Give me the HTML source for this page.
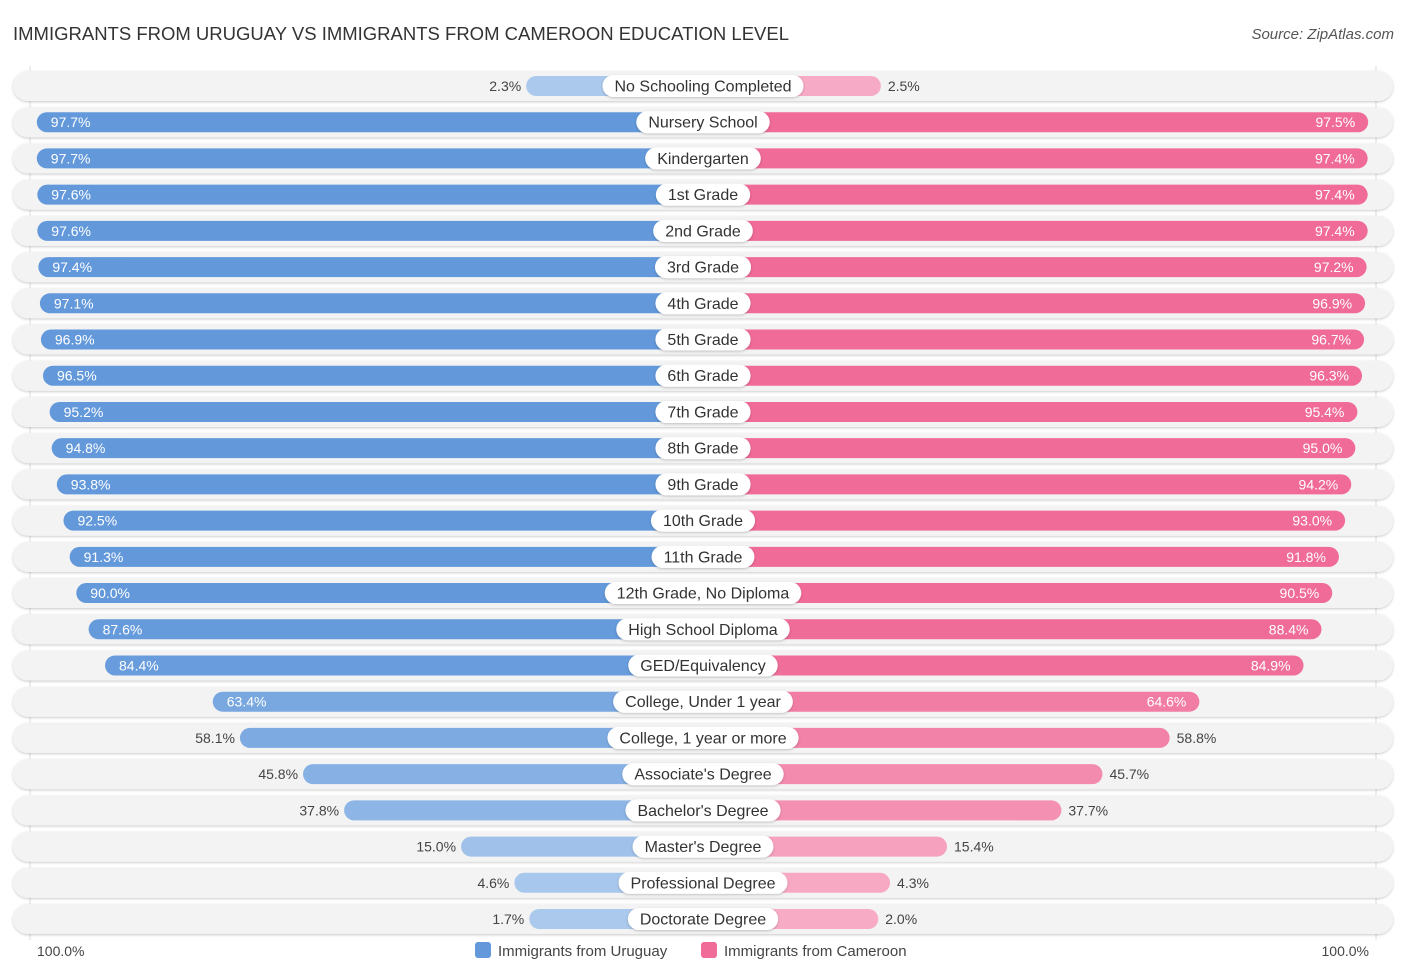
<!DOCTYPE html>
<html><head><meta charset="utf-8"><style>
body{margin:0;background:#fff;font-family:"Liberation Sans",sans-serif;}
svg text{font-family:"Liberation Sans",sans-serif;}
</style></head><body>
<svg id="c" width="1406" height="975">
<defs><filter id="sh" x="-5%" y="-30%" width="110%" height="160%"><feDropShadow dx="0" dy="1" stdDeviation="1.2" flood-color="#000" flood-opacity="0.22"/></filter></defs>
<text x="13" y="40" font-size="18.5" fill="#333">IMMIGRANTS FROM URUGUAY VS IMMIGRANTS FROM CAMEROON EDUCATION LEVEL</text>
<text x="1394" y="39" font-size="15" fill="#555" font-style="italic" text-anchor="end">Source: ZipAtlas.com</text>
<line x1="30" y1="66" x2="30" y2="940" stroke="#ddd" stroke-width="1"/>
<line x1="1376" y1="66" x2="1376" y2="940" stroke="#ddd" stroke-width="1"/>
<g id="rows"></g>
<text x="37" y="956" font-size="14" fill="#444">100.0%</text>
<text x="1369" y="956" font-size="14" fill="#444" text-anchor="end">100.0%</text>
<g>
<rect x="475" y="942" width="16" height="16" rx="3" fill="#6399db"/>
<text x="498" y="956" font-size="15" fill="#444">Immigrants from Uruguay</text>
<rect x="701" y="942" width="16" height="16" rx="3" fill="#f06b97"/>
<text x="724" y="956" font-size="15" fill="#444">Immigrants from Cameroon</text>
</g>
</svg>
<script>
const categories=["No Schooling Completed","Nursery School","Kindergarten","1st Grade","2nd Grade","3rd Grade","4th Grade","5th Grade","6th Grade","7th Grade","8th Grade","9th Grade","10th Grade","11th Grade","12th Grade, No Diploma","High School Diploma","GED/Equivalency","College, Under 1 year","College, 1 year or more","Associate's Degree","Bachelor's Degree","Master's Degree","Professional Degree","Doctorate Degree"];
const uruguay=[2.3,97.7,97.7,97.6,97.6,97.4,97.1,96.9,96.5,95.2,94.8,93.8,92.5,91.3,90.0,87.6,84.4,63.4,58.1,45.8,37.8,15.0,4.6,1.7];
const cameroon=[2.5,97.5,97.4,97.4,97.4,97.2,96.9,96.7,96.3,95.4,95.0,94.2,93.0,91.8,90.5,88.4,84.9,64.6,58.8,45.7,37.7,15.4,4.3,2.0];
const NS="http://www.w3.org/2000/svg";
const g=document.getElementById('rows');
const cx=703, y0=86, step=(919-86)/(categories.length-1);
function len(v){return 165+v*5.13;}
function mix(a,b,t){return 'rgb('+a.map((x,i)=>Math.round(x+(b[i]-x)*t)).join(',')+')';}
function blue(v){return mix([172,202,237],[99,153,219],Math.min(1,v/90));}
function pink(v){return mix([247,172,198],[240,107,151],Math.min(1,v/90));}
function el(t,a,p){const e=document.createElementNS(NS,t);for(const k in a)e.setAttribute(k,a[k]);(p||g).appendChild(e);return e;}
function txt(x,y,s,anchor,fill,p){const e=el('text',{x:x,y:y,'font-size':14,'text-anchor':anchor,fill:fill},p);e.textContent=s;return e;}
categories.forEach((c,i)=>{
  const y=y0+i*step;
  const row=el('g',{});
  
  
  const bg=el('rect',{x:13,y:y-15,width:1380,height:30,rx:15,fill:'#f3f3f3',filter:'url(#sh)'},row);
  
  
  const u=uruguay[i],m=cameroon[i];
  const lu=len(u),lm=len(m);
  const b1=el('rect',{x:cx-lu,y:y-10,width:lu,height:20,rx:10,fill:blue(u)},row);
  
  
  const b2=el('rect',{x:cx,y:y-10,width:lm,height:20,rx:10,fill:pink(m)},row);
  
  
  let t;
  if(u>60){t=txt(cx-lu+14,y+5,u.toFixed(1)+'%','start','#fff',row);}else{t=txt(cx-lu-5,y+5,u.toFixed(1)+'%','end','#444',row);}
  
  
  if(m>60){t=txt(cx+lm-13,y+5,m.toFixed(1)+'%','end','#fff',row);}else{t=txt(cx+lm+7,y+5,m.toFixed(1)+'%','start','#444',row);}
  
  
  const lab=el('text',{x:cx,y:y+5.5,'font-size':16,'text-anchor':'middle',fill:'#333'},row);
  lab.textContent=c;
  const w=lab.getComputedTextLength()+24;
  const pill=el('rect',{x:cx-w/2,y:y-11,width:w,height:22,rx:11,fill:'#fff',filter:'url(#sh)'},row);
  
  
  row.appendChild(lab);
  
  
});
</script>
</body></html>
